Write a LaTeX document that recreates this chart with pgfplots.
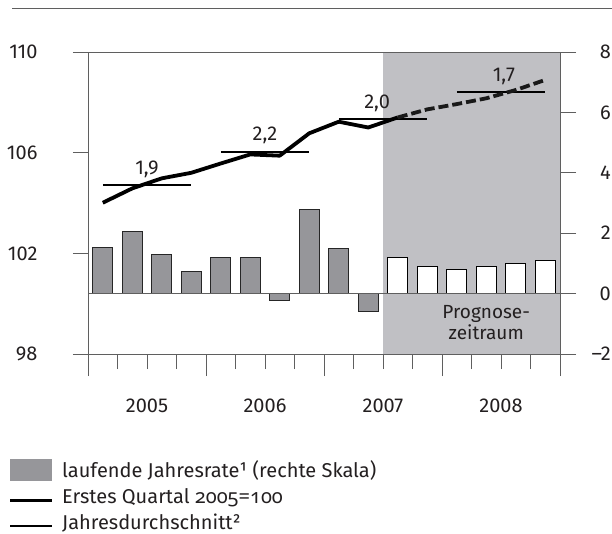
\documentclass[border=0pt]{standalone}
\usepackage{pgfplots}
\pgfplotsset{compat=1.18}
\usepackage{fontspec}
\setmainfont{Fira Sans}
\newfontfamily\oldnum[Numbers=OldStyle]{Noto Sans}
\definecolor{barGray}{RGB}{150,150,154}
\definecolor{shade}{RGB}{192,192,196}
\definecolor{axGray}{RGB}{95,95,95}
\definecolor{txt}{RGB}{35,31,32}

\pgfplotstableread{
x y
0.5 1.53
1.5 2.06
2.5 1.31
3.5 0.73
4.5 1.19
5.5 1.20
6.5 -0.24
7.5 2.78
8.5 1.50
9.5 -0.60
}\grayBars
\pgfplotstableread{
x y
10.5 1.20
11.5 0.89
12.5 0.81
13.5 0.89
14.5 1.01
15.5 1.08
}\whiteBars
\pgfplotstableread{
x y
0.5 104.01
1.5 104.58
2.5 104.98
3.5 105.20
4.5 105.57
5.5 105.93
6.5 105.88
7.5 106.77
8.5 107.23
9.5 107.00
10.5 107.40
}\indexActual
\pgfplotstableread{
x y
10.5 107.40
11.5 107.72
12.5 107.93
13.5 108.16
14.5 108.49
15.5 108.89
}\indexForecast

\begin{document}
\begin{tikzpicture}[font=\fontsize{20bp}{24bp}\selectfont, text=txt]
\useasboundingbox (0,0) rectangle (612bp,-534bp);
\draw[axGray, line width=1bp] (12bp,-8bp) -- (612bp,-8bp);

% right scale: shading and bars
\begin{axis}[
  scale only axis, width=472bp, height=302bp,
  at={(88bp,-52bp)}, anchor=north west,
  xmin=0, xmax=16, ymin=-2, ymax=8,
  axis x line=none,
  axis y line*=right,
  axis line style={axGray, line width=1bp, -},
  ytick={-2,0,2,4,6,8},
  yticklabels={–2,0,2,4,6,8},
  tick align=outside,
  major tick length=16bp,
  tick style={axGray, line width=1bp},
  yticklabel style={anchor=east, inner sep=0pt, xshift=35bp},
  clip=false,
]
\addplot[fill=shade, draw=none] coordinates {(10,-2) (16,-2) (16,8) (10,8)};
\addplot[ybar, bar width=20bp, bar shift=0pt, fill=barGray, draw=black!85, line width=0.9bp] table[x=x,y=y] {\grayBars};
\addplot[ybar, bar width=20bp, bar shift=0pt, fill=white, draw=black, line width=1bp] table[x=x,y=y] {\whiteBars};
\draw[axGray, line width=1bp] (axis cs:0,0) -- (axis cs:16,0);
\end{axis}

% x axis
\begin{axis}[
  scale only axis, width=472bp, height=302bp,
  at={(88bp,-52bp)}, anchor=north west,
  xmin=0, xmax=16, ymin=0, ymax=1,
  axis y line=none,
  axis x line*=bottom,
  axis line style={axGray, line width=1bp, -},
  xtick={0,4,8,12,16},
  xticklabels={2005,2006,2007,2008},
  x tick label as interval,
  minor xtick={1,2,3,5,6,7,9,10,11,13,14,15},
  tick align=outside,
  major tick length=22bp,
  minor tick length=15bp,
  tick style={axGray, line width=1bp},
  xticklabel style={yshift=-19bp},
]
\end{axis}

% left scale: index lines
\begin{axis}[
  scale only axis, width=472bp, height=302bp,
  at={(88bp,-52bp)}, anchor=north west,
  xmin=0, xmax=16, ymin=98, ymax=110,
  axis x line=none,
  axis y line*=left,
  axis line style={axGray, line width=1bp, -},
  ytick={98,102,106,110},
  tick align=outside,
  major tick length=15bp,
  tick style={axGray, line width=1bp},
  yticklabel style={xshift=-32bp},
  /pgf/number format/assume math mode=true,
  clip=false,
]
\draw[axGray, line width=1bp] (rel axis cs:0,1) -- (rel axis cs:1,1);
\addplot[black, line width=2bp] coordinates {(0.5,104.71) (3.5,104.71)};
\addplot[black, line width=2bp] coordinates {(4.5,106.04) (7.5,106.04)};
\addplot[black, line width=2bp] coordinates {(8.5,107.32) (11.5,107.32)};
\addplot[black, line width=2bp] coordinates {(12.5,108.40) (15.5,108.40)};
\addplot[black, line width=3.8bp, line join=round] table[x=x,y=y] {\indexActual};
\addplot[black!90, line width=3.8bp, dash pattern=on 10bp off 4bp] table[x=x,y=y] {\indexForecast};
\node[anchor=base, yshift=11bp] at (axis cs:2,104.71) {1,9};
\node[anchor=base, yshift=11bp] at (axis cs:6,106.04) {2,2};
\node[anchor=base, yshift=11bp] at (axis cs:9.8,107.32) {2,0};
\node[anchor=base, yshift=11bp] at (axis cs:14.1,108.40) {1,7};
\node[align=center, font=\fontsize{19bp}{21bp}\selectfont] at (axis cs:13.5,99.25) {Prognose-\\zeitraum};
\end{axis}

% legend
\fill[barGray] (10bp,-459bp) rectangle (52bp,-481bp);
\draw[black, line width=3bp] (10bp,-500bp) -- (52bp,-500bp);
\draw[black, line width=1.3bp] (10bp,-526bp) -- (52bp,-526bp);
\node[anchor=base west, inner sep=0pt] at (62bp,-477bp) {laufende Jahresrate¹ (rechte Skala)};
\node[anchor=base west, inner sep=0pt] at (62bp,-503bp) {Erstes Quartal {\oldnum 2005=100}};
\node[anchor=base west, inner sep=0pt] at (62bp,-529bp) {Jahresdurchschnitt²};
\end{tikzpicture}
\end{document}
